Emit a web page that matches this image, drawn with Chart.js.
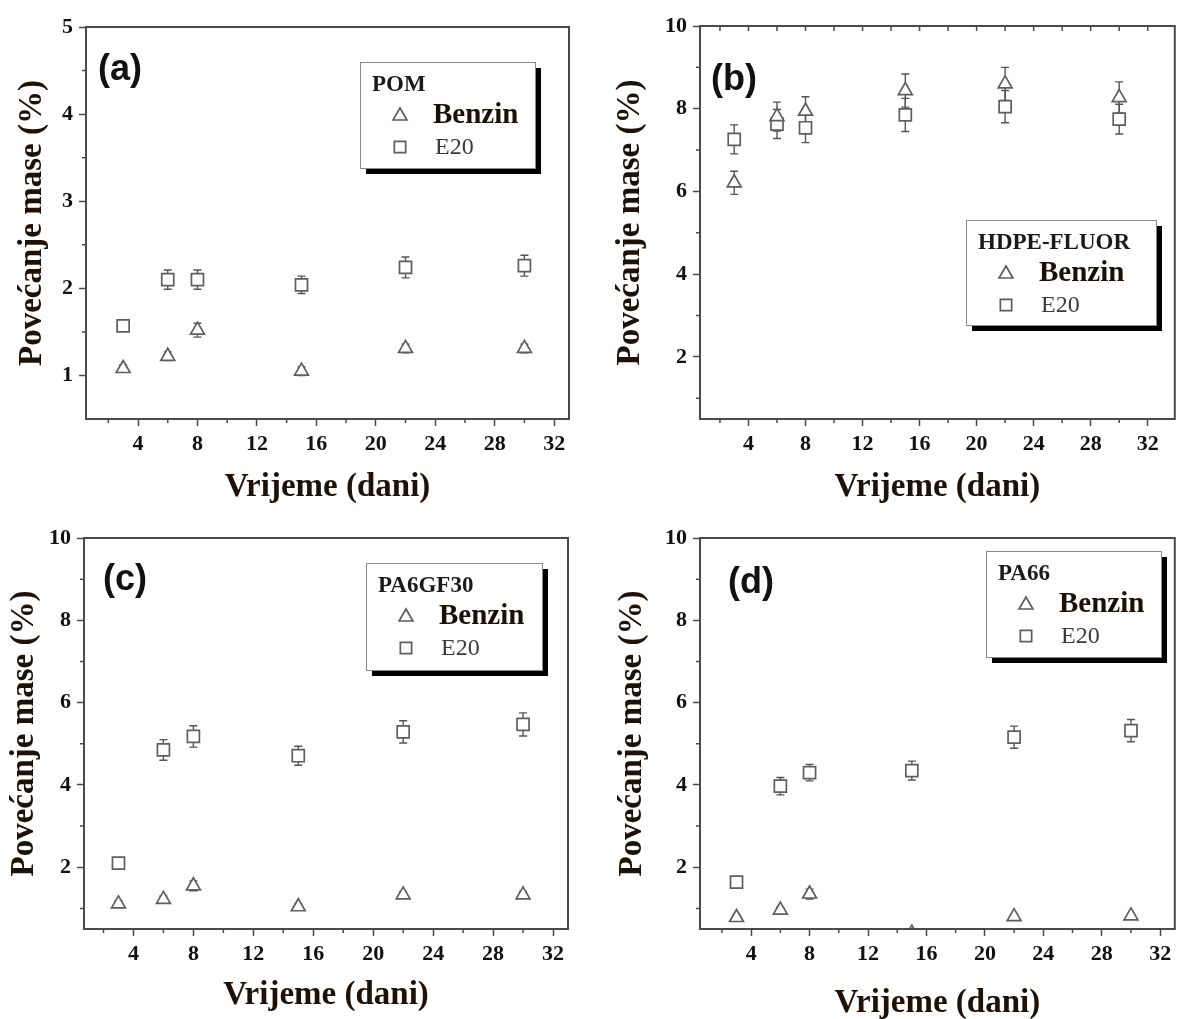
<!DOCTYPE html>
<html>
<head>
<meta charset="utf-8">
<script src="https://cdn.jsdelivr.net/npm/chart.js@4.4.1/dist/chart.umd.min.js"></script>
<style>
html, body { margin: 0; padding: 0; background: #fff; overflow: hidden; width: 1185px; height: 1019px; }
.panel { position: absolute; }
canvas { display: block; }
</style>
</head>
<body>
<div class="panel"><canvas id="chart-a"></canvas></div>
<div class="panel"><canvas id="chart-b"></canvas></div>
<div class="panel"><canvas id="chart-c"></canvas></div>
<div class="panel"><canvas id="chart-d"></canvas></div>
<script>
// dani mjerenja
const days = [3, 6, 8, 15, 22, 30];

// oznake osi
const xTickValues = [4, 8, 12, 16, 20, 24, 28, 32];
const xMinorValues = [2, 6, 10, 14, 18, 22, 26, 30];
const yTicksPom = [1, 2, 3, 4, 5];
const yMinorPom = [1.5, 2.5, 3.5, 4.5];
const yTicksOther = [2, 4, 6, 8, 10];
const yMinorOther = [1, 3, 5, 7, 9];

// (a) POM
const pomBenzin = [1.08, 1.22, 1.52, 1.05, 1.31, 1.31];
const pomBenzinErr = [0.04, 0.05, 0.08, 0.05, 0.05, 0.05];
const pomE20 = [1.57, 2.10, 2.10, 2.04, 2.24, 2.26];
const pomE20Err = [0.06, 0.11, 0.11, 0.10, 0.12, 0.12];

// (b) HDPE-FLUOR
const hdpeBenzin = [6.21, 7.81, 7.94, 8.44, 8.60, 8.27];
const hdpeBenzinErr = [0.28, 0.35, 0.35, 0.40, 0.40, 0.38];
const hdpeE20 = [7.26, 7.63, 7.54, 7.85, 8.05, 7.75];
const hdpeE20Err = [0.35, 0.35, 0.36, 0.40, 0.39, 0.36];

// (c) PA6GF30
const pa6Benzin = [1.11, 1.22, 1.55, 1.04, 1.33, 1.33];
const pa6BenzinErr = [0.08, 0.08, 0.12, 0.07, 0.08, 0.08];
const pa6E20 = [2.10, 4.85, 5.18, 4.71, 5.29, 5.47];
const pa6E20Err = [0.06, 0.25, 0.26, 0.23, 0.27, 0.28];

// (d) PA66
const pa66Benzin = [0.78, 0.96, 1.35, 0.40, 0.80, 0.82];
const pa66BenzinErr = [0.06, 0.07, 0.12, 0.05, 0.06, 0.06];
const pa66E20 = [1.64, 3.97, 4.30, 4.35, 5.16, 5.32];
const pa66E20Err = [0.06, 0.21, 0.20, 0.23, 0.27, 0.27];

const axisColor = '#4a4a4a';
const markColor = '#5e5e5e';
const titleColor = '#1e1208';

// raspored panela: box = canvas [x, y, w, h], plot = [lijevo, gore, desno, dolje]
const panels = [
  { id: 'chart-a', tag: '(a)', name: 'POM', box: [0, 0, 592, 510], plot: [86, 27, 569, 419],
    xMin: 0.5, xMax: 33, yMin: 0.5, yMax: 5, yTicks: yTicksPom, yMinor: yMinorPom,
    benzin: pomBenzin, benzinErr: pomBenzinErr, e20: pomE20, e20Err: pomE20Err,
    yTitlePad: 13, xTitlePad: 3, tagPos: [98, 70], legend: [360, 62, 175, 106], topTicks: false },
  { id: 'chart-b', tag: '(b)', name: 'HDPE-FLUOR', box: [592, 0, 593, 510], plot: [700, 26, 1182, 419],
    xMin: 0.6, xMax: 33.9, yMin: 0.5, yMax: 10, yTicks: yTicksOther, yMinor: yMinorOther,
    benzin: hdpeBenzin, benzinErr: hdpeBenzinErr, e20: hdpeE20, e20Err: hdpeE20Err,
    yTitlePad: 19, xTitlePad: 3, tagPos: [711, 80], legend: [966, 220, 190, 105], topTicks: true },
  { id: 'chart-c', tag: '(c)', name: 'PA6GF30', box: [0, 510, 592, 520], plot: [84, 538, 568, 929],
    xMin: 0.7, xMax: 33, yMin: 0.5, yMax: 10, yTicks: yTicksOther, yMinor: yMinorOther,
    benzin: pa6Benzin, benzinErr: pa6BenzinErr, e20: pa6E20, e20Err: pa6E20Err,
    yTitlePad: 5, xTitlePad: 15, tagPos: [103, 580], legend: [366, 563, 176, 107], topTicks: false },
  { id: 'chart-d', tag: '(d)', name: 'PA66', box: [592, 510, 593, 520], plot: [700, 538, 1182, 929],
    xMin: 0.5, xMax: 33, yMin: 0.5, yMax: 10, yTicks: yTicksOther, yMinor: yMinorOther,
    benzin: pa66Benzin, benzinErr: pa66BenzinErr, e20: pa66E20, e20Err: pa66E20Err,
    yTitlePad: 21, xTitlePad: 7, tagPos: [728, 583], legend: [986, 551, 175, 106], topTicks: false },
];

// crtanje markera (trokut / kvadrat)
function drawMark(ctx, style, x, y, r) {
  ctx.beginPath();
  if (style === 'triangle') {
    let a = 0;
    ctx.moveTo(x + Math.sin(a) * r, y - Math.cos(a) * r);
    a += Math.PI * 2 / 3;
    ctx.lineTo(x + Math.sin(a) * r, y - Math.cos(a) * r);
    a += Math.PI * 2 / 3;
    ctx.lineTo(x + Math.sin(a) * r, y - Math.cos(a) * r);
    ctx.closePath();
  } else {
    const s = r * Math.SQRT1_2;
    ctx.rect(x - s, y - s, 2 * s, 2 * s);
  }
  ctx.fillStyle = '#fff';
  ctx.fill();
  ctx.strokeStyle = markColor;
  ctx.lineWidth = 1.7;
  ctx.stroke();
}

function makeChart(p) {
  const cv = document.getElementById(p.id);
  cv.width = p.box[2];
  cv.height = p.box[3];
  cv.parentNode.style.left = p.box[0] + 'px';
  cv.parentNode.style.top = p.box[1] + 'px';

  // error bars
  const errorBars = {
    id: 'errorBars',
    beforeDatasetsDraw(chart) {
      const { ctx, chartArea, scales: { x, y } } = chart;
      ctx.save();
      ctx.beginPath();
      ctx.rect(chartArea.left, chartArea.top, chartArea.width, chartArea.height);
      ctx.clip();
      ctx.strokeStyle = '#555';
      ctx.lineWidth = 1.4;
      chart.data.datasets.forEach(ds => {
        ds.data.forEach((pt, i) => {
          const e = ds.errors[i];
          const px = x.getPixelForValue(pt.x);
          const y1 = y.getPixelForValue(pt.y + e);
          const y2 = y.getPixelForValue(pt.y - e);
          ctx.beginPath();
          ctx.moveTo(px, y1); ctx.lineTo(px, y2);
          ctx.moveTo(px - 4, y1); ctx.lineTo(px + 4, y1);
          ctx.moveTo(px - 4, y2); ctx.lineTo(px + 4, y2);
          ctx.stroke();
        });
      });
      ctx.restore();
    }
  };

  // okvir, sporedne oznake, legenda i oznaka panela
  const decor = {
    id: 'decor',
    afterDraw(chart) {
      const { ctx, chartArea: a, scales: { x, y } } = chart;
      ctx.save();
      ctx.strokeStyle = axisColor;
      ctx.lineWidth = 2;
      ctx.strokeRect(a.left, a.top, a.right - a.left, a.bottom - a.top);
      ctx.lineWidth = 1.5;
      ctx.beginPath();
      xMinorValues.forEach(v => {
        const px = x.getPixelForValue(v);
        ctx.moveTo(px, a.bottom); ctx.lineTo(px, a.bottom + 4);
      });
      p.yMinor.forEach(v => {
        const py = y.getPixelForValue(v);
        ctx.moveTo(a.left, py); ctx.lineTo(a.left - 4, py);
      });
      if (p.topTicks) {
        xMinorValues.concat(xTickValues).forEach(v => {
          const px = x.getPixelForValue(v);
          ctx.moveTo(px, a.top); ctx.lineTo(px, a.top + 5);
        });
      }
      ctx.stroke();

      // oznaka panela
      ctx.fillStyle = '#111';
      ctx.font = 'bold 36px "Liberation Sans", Arial, sans-serif';
      ctx.textAlign = 'left';
      ctx.textBaseline = 'middle';
      ctx.fillText(p.tag, p.tagPos[0] - p.box[0], p.tagPos[1] - p.box[1]);

      // legenda
      const lx = p.legend[0] - p.box[0], ly = p.legend[1] - p.box[1];
      const lw = p.legend[2], lh = p.legend[3];
      ctx.fillStyle = '#000';
      ctx.fillRect(lx + 6, ly + 6, lw, lh);
      ctx.fillStyle = '#fff';
      ctx.fillRect(lx, ly, lw, lh);
      ctx.strokeStyle = '#8a8a8a';
      ctx.lineWidth = 1;
      ctx.strokeRect(lx + 0.5, ly + 0.5, lw, lh);
      ctx.fillStyle = '#1a1a1a';
      ctx.font = 'bold 23px "Liberation Serif", serif';
      ctx.fillText(p.name, lx + 12, ly + 23);
      drawMark(ctx, 'triangle', lx + 40, ly + 54, 8);
      drawMark(ctx, 'rect', lx + 40, ly + 85, 8);
      ctx.fillStyle = '#1c1006';
      ctx.font = 'bold 29px "Liberation Serif", serif';
      ctx.fillText(chart.data.datasets[0].label, lx + 73, ly + 54);
      ctx.fillStyle = '#3a3a3a';
      ctx.font = '24px "Liberation Serif", serif';
      ctx.fillText(chart.data.datasets[1].label, lx + 75, ly + 86);
      ctx.restore();
    }
  };

  const tickFont = { family: '"Liberation Serif", serif', size: 22, weight: 'bold' };
  const titleFont = { family: '"Liberation Serif", serif', size: 33, weight: 'bold' };

  return new Chart(cv, {
    type: 'scatter',
    data: {
      datasets: [
        {
          label: 'Benzin',
          data: days.map((d, i) => ({ x: d, y: p.benzin[i] })),
          errors: p.benzinErr,
          pointStyle: 'triangle',
          pointRadius: 8,
          pointBorderWidth: 1.7,
          pointBorderColor: markColor,
          pointBackgroundColor: '#fff',
          clip: 0,
        },
        {
          label: 'E20',
          data: days.map((d, i) => ({ x: d, y: p.e20[i] })),
          errors: p.e20Err,
          pointStyle: 'rect',
          pointRadius: 8.5,
          pointBorderWidth: 1.7,
          pointBorderColor: markColor,
          pointBackgroundColor: '#fff',
          clip: 0,
        },
      ],
    },
    options: {
      responsive: false,
      animation: false,
      devicePixelRatio: 1,
      events: [],
      layout: {
        padding: { top: p.plot[1] - p.box[1], right: p.box[0] + p.box[2] - p.plot[2], left: 0, bottom: 0 },
      },
      plugins: { legend: { display: false }, tooltip: { enabled: false } },
      scales: {
        x: {
          type: 'linear',
          min: p.xMin,
          max: p.xMax,
          afterBuildTicks: s => { s.ticks = xTickValues.map(v => ({ value: v })); },
          afterFit: s => { s.height = p.box[1] + p.box[3] - p.plot[3]; },
          ticks: { font: tickFont, color: '#111', padding: 5, autoSkip: false, maxRotation: 0 },
          grid: { drawOnChartArea: false, tickLength: 7, tickColor: axisColor, tickWidth: 1.5 },
          border: { color: axisColor, width: 2 },
          title: { display: true, text: 'Vrijeme (dani)', font: titleFont, color: titleColor, padding: { top: 0, bottom: p.xTitlePad } },
        },
        y: {
          type: 'linear',
          min: p.yMin,
          max: p.yMax,
          afterBuildTicks: s => { s.ticks = p.yTicks.map(v => ({ value: v })); },
          afterFit: s => { s.width = p.plot[0] - p.box[0]; },
          ticks: { font: tickFont, color: '#111', padding: 6, autoSkip: false },
          grid: { drawOnChartArea: false, tickLength: 7, tickColor: axisColor, tickWidth: 1.5 },
          border: { color: axisColor, width: 2 },
          title: { display: true, text: 'Povećanje mase (%)', font: titleFont, color: titleColor, padding: { top: p.yTitlePad, bottom: 0 } },
        },
      },
    },
    plugins: [errorBars, decor],
  });
}

panels.forEach(makeChart);
</script>
</body>
</html>
